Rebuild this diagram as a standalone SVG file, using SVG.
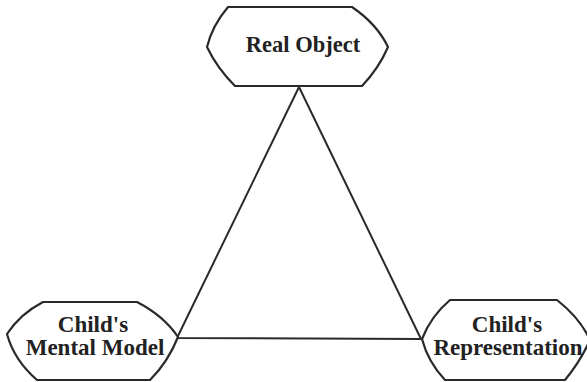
<svg xmlns="http://www.w3.org/2000/svg" width="587" height="382" viewBox="0 0 587 382">
<style>
.node{fill:#fff;stroke:#2a2a2a;stroke-width:2.2;stroke-linejoin:round}
.edge{fill:none;stroke:#2a2a2a;stroke-width:2}
.lbl{font-family:'Liberation Serif','DejaVu Serif','Times New Roman',serif;font-weight:bold;font-size:23px;fill:#222;text-anchor:middle}
</style>
<rect width="587" height="382" fill="#fff"/>
<g id="connectors">
<path class="edge" d="M299,87 L177,338 M299,87 L421,339 M177,338 L421,339"/>
</g>
<g id="real-object">
<path class="node" d="M228,7 L352,7 Q377,24 388,47 Q379,68 362,86 L235,86 Q217,68 207,47 Q212,26 228,7 Z"/>
<text class="lbl" x="303" y="52" style="font-size:22.5px">Real Object</text>
</g>
<g id="mental-model">
<path class="node" d="M43,302 L137,302 Q164,316 178,337 Q168,362 150,380 L37,380 Q14,360 7,334 Q20,314 43,302 Z"/>
<text class="lbl" x="93" y="332">Child's</text>
<text class="lbl" x="95" y="355">Mental Model</text>
</g>
<g id="representation">
<path class="node" d="M450,300 L557,300 Q580,318 590,340 Q580,362 565,380 L445,380 Q428,362 422,339 Q431,316 450,300 Z"/>
<text class="lbl" x="507" y="332">Child's</text>
<text class="lbl" x="508" y="355">Representation</text>
</g>
</svg>
